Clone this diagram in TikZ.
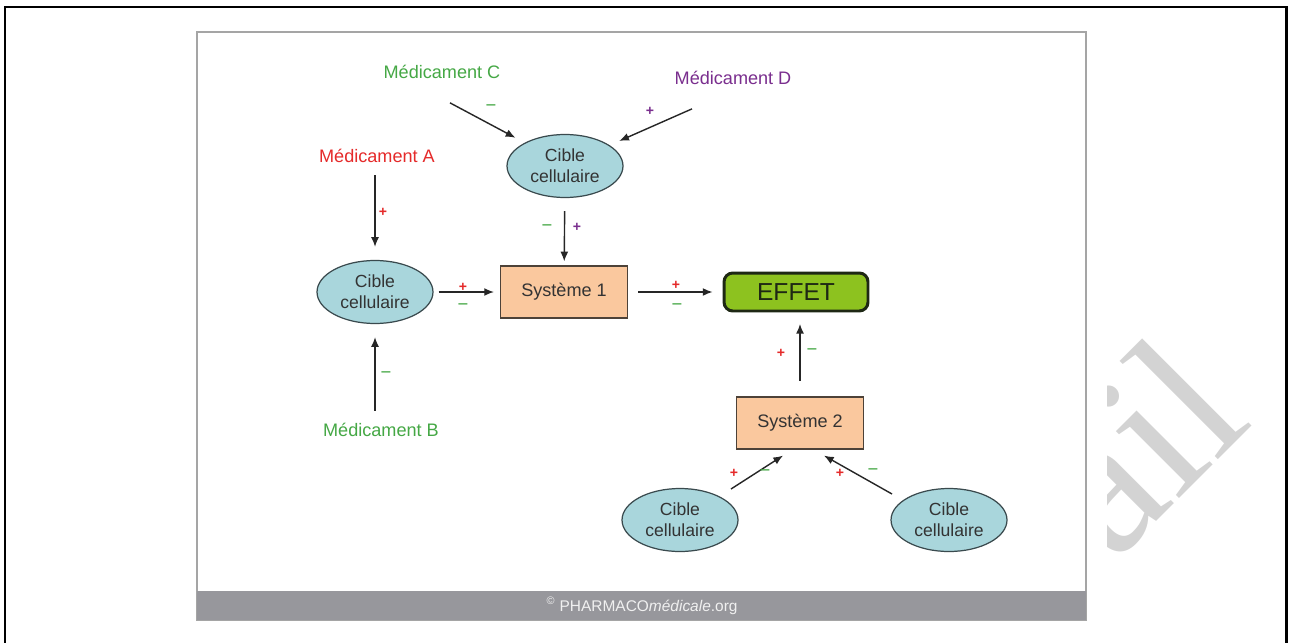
\documentclass[tikz,border=0pt]{standalone}
\usepackage{fontspec}
\setmainfont{Liberation Sans}
\newfontfamily\wmfont{Liberation Serif}
\usetikzlibrary{arrows.meta, positioning, shapes.geometric}
\definecolor{texteFonce}{HTML}{333333}
\definecolor{cibleBleu}{HTML}{A9D6DC}
\definecolor{bordCible}{HTML}{3A4A4E}
\definecolor{sysOrange}{HTML}{FAC89E}
\definecolor{bordSys}{HTML}{4D4238}
\definecolor{effetVert}{HTML}{8DC21F}
\definecolor{effetFonce}{HTML}{1E2814}
\definecolor{plusRouge}{HTML}{E52A2A}
\definecolor{moinsVert}{HTML}{45A845}
\definecolor{medViolet}{HTML}{7A2E8E}
\definecolor{cadreGris}{HTML}{A5A5A5}
\definecolor{piedGris}{HTML}{97979C}
\definecolor{piedTexte}{HTML}{F0F0F0}
\definecolor{filigrane}{HTML}{D3D3D3}

\begin{document}
\begin{tikzpicture}[
    x=0.02cm, y=-0.02cm,
    cible/.style={ellipse, draw=bordCible, line width=0.7pt, fill=cibleBleu,
                  minimum width=2.32cm, minimum height=1.26cm, inner sep=0pt,
                  align=center, text=texteFonce,
                  font=\fontsize{10}{12}\selectfont},
    systeme/.style={rectangle, draw=bordSys, line width=0.7pt, fill=sysOrange,
                  minimum width=2.54cm, minimum height=1.04cm, text=texteFonce,
                  font=\fontsize{10.3}{12}\selectfont},
    effet/.style={rectangle, rounded corners=5pt, draw=effetFonce,
                  line width=1.7pt, fill=effetVert, minimum width=2.88cm,
                  minimum height=0.76cm, text=effetFonce,
                  font=\fontsize{14}{16}\selectfont},
    medic/.style={font=\fontsize{10.3}{12}\selectfont, text=#1, inner sep=1pt},
    signe/.style={font=\fontsize{8}{9}\selectfont\bfseries, text=#1,
                  inner sep=0pt},
    moins/.style={font=\fontsize{10.5}{11}\selectfont, text=#1, inner sep=0pt},
    fleche/.style={-{Latex[length=5.5pt, width=4.5pt]}, line width=0.8pt,
                   draw=black!85},
  ]
    \useasboundingbox (0,0) rectangle (1290,642);

    % filigrane + cadre de la page
    \node[font=\wmfont\fontsize{114}{114}\selectfont, text=filigrane,
          rotate=45, anchor=base east, inner sep=0pt] (filig) at (1255,423) {ail};
    \fill[white] (190,25) rectangle (1107,634);
    \draw[line width=1.7pt] (5,660) -- (5,7) -- (1286,7) -- (1286,660);

    % image
    \draw[cadreGris, line width=1.1pt] (197,32) rectangle (1086,620);
    \fill[piedGris] (197,591) rectangle (1086,620);
    \node[text=piedTexte, font=\fontsize{8.8}{10}\selectfont] (pied) at (642,606)
      {\textsuperscript{©} PHARMACO\textit{médicale}.org};

    % medicaments
    \node[medic=moinsVert] (medC) at (442,72) {Médicament C};
    \node[medic=medViolet] (medD) at (733,78) {Médicament D};
    \node[medic=plusRouge] (medA) at (377,156) {Médicament A};
    \node[medic=moinsVert] (medB) at (381,430) {Médicament B};

    % cibles
    \node[cible] (cibH) at (565,166) {Cible\\cellulaire};
    \node[cible] (cibG) at (375,292) {Cible\\cellulaire};
    \node[cible] (cibBG) at (680,520) {Cible\\cellulaire};
    \node[cible] (cibBD) at (949,520) {Cible\\cellulaire};

    % systemes
    \node[systeme] (sys1) at (564,292) {Système 1};
    \node[systeme] (sys2) at (800,423) {Système 2};
    \node[effet] (effet) at (796,292) {EFFET};

    % fleches
    \draw[fleche, shorten >=6pt] ([shift={(8,22)}]medC.south) -- (cibH.150);
    \draw[fleche, shorten >=6pt] ([shift={(-41,22)}]medD.south) -- (cibH.25);
    \draw[fleche, shorten <=6pt, shorten >=7.4pt] (cibG |- medA.south) -- (cibG);
    \draw[fleche, shorten <=6pt, shorten >=7.4pt] (cibG |- medB.north) -- (cibG);
    \draw[fleche, shorten <=7.4pt, shorten >=2.3pt] (cibH) -- (sys1);
    \draw[fleche, shorten <=2.8pt, shorten >=3.4pt] (cibG) -- (sys1);
    \draw[fleche, shorten <=5.7pt, shorten >=5.7pt] (sys1) -- (effet);
    \draw[fleche, shorten <=9pt, shorten >=6.5pt] (sys2.north) -- (sys2.north |- effet.south);
    \draw[fleche] ([shift={(51,-31)}]cibBG.center) -- ([shift={(-17,6)}]sys2.south);
    \draw[fleche] ([shift={(-57,-26)}]cibBD.center) -- ([shift={(24,6)}]sys2.south);

    % signes
    \node[moins=moinsVert] (sC) at (491,108) {−};
    \node[signe=medViolet] (sD) at (650,111) {+};
    \node[signe=plusRouge] (sA) at (383,212) {+};
    \node[moins=moinsVert] (sB) at (386,375) {−};
    \node[moins=moinsVert] (sH1) at (547,228) {−};
    \node[signe=medViolet] (sH2) at (577,227) {+};
    \node[signe=plusRouge] (sG1) at (463,287) {+};
    \node[moins=moinsVert] (sG2) at (463,307) {−};
    \node[signe=plusRouge] (sS1) at (676,285) {+};
    \node[moins=moinsVert] (sS2) at (677,307) {−};
    \node[signe=plusRouge] (sE1) at (781,353) {+};
    \node[moins=moinsVert] (sE2) at (812,352) {−};
    \node[signe=plusRouge] (sL1) at (734,473) {+};
    \node[moins=moinsVert] (sL2) at (765,473) {−};
    \node[signe=plusRouge] (sR1) at (840,473) {+};
    \node[moins=moinsVert] (sR2) at (873,472) {−};
  \end{tikzpicture}
\end{document}
